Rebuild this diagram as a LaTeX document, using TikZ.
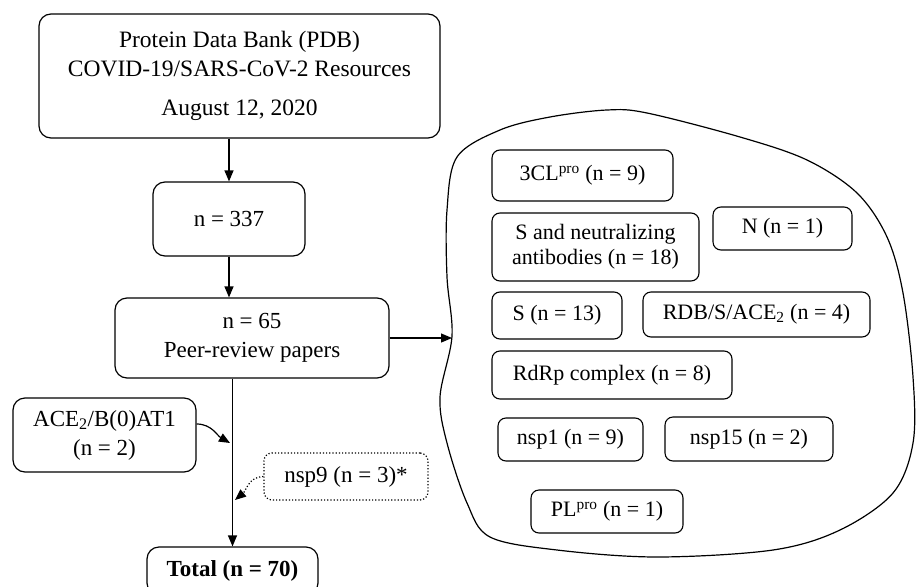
\documentclass[tikz,border=0pt]{standalone}
\usepackage{fontspec}
\setmainfont{Liberation Serif}
\usetikzlibrary{arrows.meta, positioning}
\tikzset{
  %% Styles %%
  box/.style = {draw, line width=1.2pt, rounded corners=12pt, align=center,
    inner sep=0pt, font=\fontsize{23}{29}\selectfont},
  topic/.style = {draw, line width=1.1pt, rounded corners=8pt, align=center,
    inner sep=0pt, font=\fontsize{22}{25}\selectfont},
  flow/.style = {line width=1.2pt, -{Triangle[length=11pt, width=9pt]}},
}

\begin{document}
\begin{tikzpicture}[x=1pt, y=-1pt]
  \clip (0,0) rectangle (917,586);

  % Main chain
  \node[box, minimum width=401pt, minimum height=124pt, font=\fontsize{23.5}{29}\selectfont]
    (pdb) at (239.5,76)
    {Protein Data Bank (PDB)\\COVID-19/SARS-CoV-2 Resources\\[10pt]August 12, 2020};
  \node[box, minimum width=152pt, minimum height=74pt] (n337) at (229,219) {n = 337};
  \node[box, minimum width=274pt, minimum height=80pt] (n65) at (252,338)
    {n = 65\\Peer-review papers};
  \node[box, minimum width=171pt, minimum height=48pt, font=\fontsize{23}{29}\selectfont\bfseries]
    (total) at (232.5,571) {Total (n = 70)};

  % Added records
  \node[box, minimum width=183pt, minimum height=74pt] (ace) at (104.5,435)
    {ACE\textsubscript{2}/B(0)AT1\\(n = 2)};
  \node[box, dotted, rounded corners=8pt, minimum width=164pt, minimum height=47pt]
    (nsp9) at (346,476.5) {nsp9 (n = 3)*};

  \draw[flow] (pdb.south -| n337.north) -- (n337.north);
  \draw[flow] (n337.south) -- (n337.south |- n65.north);
  \draw[flow] (n65.south -| total.north) -- (total.north);

  \coordinate (acein) at (230,443);
  \coordinate (nspin) at (235,500);
  \draw[flow] (ace.east |- 0,424) to[out=0, in=150] (acein);
  \draw[flow, dotted] (nsp9.west) to[out=180, in=40] (nspin);

  % Topic cloud
  \coordinate (blobin) at (452,336);
  \draw[line width=1.2pt] plot[smooth cycle, tension=0.55] coordinates {
    (457,157) (500,130) (550,117) (607,110) (647,113) (740,137) (807,160)
    (857,193) (887,237) (903,293) (913,377) (913,443) (893,493) (840,530)
    (773,550) (657,557) (557,550) (490,537) (467,503) (447,443) (440,397)
    (452,336) (447,277) (447,210)};
  \draw[flow] (n65.east) -- (n65.east -| blobin);

  \node[topic, minimum width=181pt, minimum height=51pt] (tcl) at (582.5,175.5)
    {3CL\textsuperscript{pro} (n = 9)};
  \node[topic, minimum width=207pt, minimum height=68pt] (sab) at (595.5,247)
    {S and neutralizing\\antibodies (n = 18)};
  \node[topic, minimum width=139pt, minimum height=43pt] (nn) at (782.5,228.5) {N (n = 1)};
  \node[topic, minimum width=130pt, minimum height=47pt] (ss) at (557,315.5) {S (n = 13)};
  \node[topic, minimum width=227pt, minimum height=45pt] (rdb) at (756.5,314.5)
    {RDB/S/ACE\textsubscript{2} (n = 4)};
  \node[topic, minimum width=240pt, minimum height=48pt] (rdrp) at (612,375) {RdRp complex (n = 8)};
  \node[topic, minimum width=145pt, minimum height=43pt] (nspone) at (570.5,439.5) {nsp1 (n = 9)};
  \node[topic, minimum width=168pt, minimum height=44pt] (nspfifteen) at (749,439) {nsp15 (n = 2)};
  \node[topic, minimum width=152pt, minimum height=43pt] (plpro) at (607,511.5)
    {PL\textsuperscript{pro} (n = 1)};
\end{tikzpicture}
\end{document}
